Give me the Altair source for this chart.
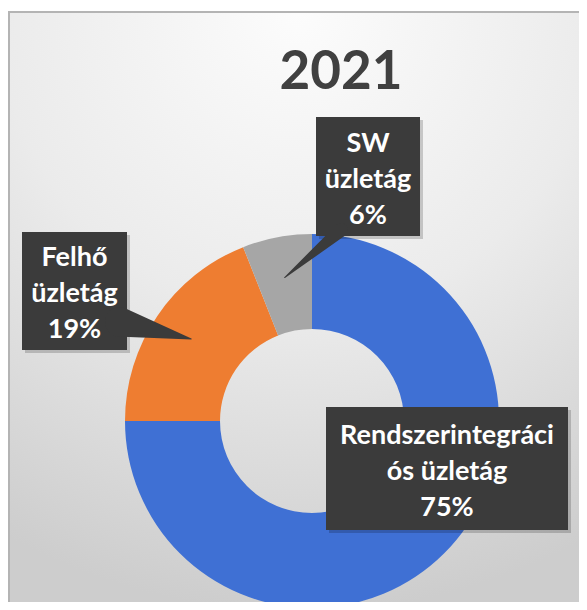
import math
import altair as alt
import pandas as pd

# ---- data ----
categories = ["Rendszerintegrációs üzletág", "Felhő üzletág", "SW üzletág"]
shares = [75, 19, 6]
label_lines = [["Rendszerintegráci", "ós üzletág"], ["Felhő", "üzletág"], ["SW", "üzletág"]]
colors = ["#3F70D4", "#EE7D31", "#A6A6A6"]
title_text = "2021"

# ---- layout ----
W, H = 571, 594
CX, CY = 304, 413
R_OUT, R_IN = 187, 92
FONT = "Lato"
BOX_COLOR = "#3b3b3b"
LINE_H = 36
# label boxes (left, right, top, bottom) in chart pixels
boxes = [(318, 560, 399, 522), (14, 119, 224, 342), (308, 412, 109, 228)]
pointer_base = [None, (112, 314, 30), (333, 222, 14)]   # x, y, width
TIP_R = 146

xs = alt.Scale(domain=[0, W], range=[0, W], nice=False, zero=False)
ys = alt.Scale(domain=[0, H], range=[0, H], nice=False, zero=False)

# background panel
bg = alt.Chart(alt.Data(values=[{}])).mark_rect(
    fill={"gradient": "radial",
          "stops": [{"offset": 0, "color": "#fcfcfc"},
                    {"offset": 0.5, "color": "#ebebeb"},
                    {"offset": 1, "color": "#cdcdcd"}],
          "x1": 0.5, "y1": 0, "r1": 0, "x2": 0.5, "y2": 0, "r2": 1},
    stroke="#b4b4b4", strokeWidth=2,
).encode(x=alt.value(1), x2=alt.value(W + 10), y=alt.value(4), y2=alt.value(H + 10))

# donut
donut_df = pd.DataFrame({"name": categories, "value": shares, "idx": list(range(len(shares)))})
donut = alt.Chart(donut_df).mark_arc(radius=R_OUT, radius2=R_IN).encode(
    theta=alt.Theta("value:Q", stack=True),
    color=alt.Color("name:N", scale=alt.Scale(domain=categories, range=colors), legend=None),
    order=alt.Order("idx:Q"),
    x=alt.value(CX), y=alt.value(CY),
)

# pointers: from box to slice middle
total = sum(shares)
rows = []
cum = 0
for i, v in enumerate(shares):
    mid = (cum + v / 2) / total * 2 * math.pi
    cum += v
    base = pointer_base[i]
    if base is None:
        continue
    tx = CX + TIP_R * math.sin(mid)
    ty = CY - TIP_R * math.cos(mid)
    rows.append({"g": i, "k": 0, "x": base[0], "y": base[1], "w": base[2]})
    rows.append({"g": i, "k": 1, "x": tx, "y": ty, "w": 0})
ptr_df = pd.DataFrame(rows)
pointers = alt.Chart(ptr_df).mark_trail(color=BOX_COLOR).encode(
    x=alt.X("x:Q", scale=xs, axis=None),
    y=alt.Y("y:Q", scale=ys, axis=None),
    size=alt.Size("w:Q", scale=None, legend=None),
    detail="g:N",
    order="k:Q",
)

# boxes
box_df = pd.DataFrame({
    "x1": [b[0] for b in boxes], "x2": [b[1] for b in boxes],
    "y1": [b[2] for b in boxes], "y2": [b[3] for b in boxes],
})
box_df["sx1"] = box_df.x1 + 3
box_df["sx2"] = box_df.x2 + 3
box_df["sy1"] = box_df.y1 + 3
box_df["sy2"] = box_df.y2 + 3
shadow = alt.Chart(box_df).mark_rect(color="#000000", opacity=0.18).encode(
    x=alt.X("sx1:Q", scale=xs, axis=None), x2="sx2:Q",
    y=alt.Y("sy1:Q", scale=ys, axis=None), y2="sy2:Q",
)
box = alt.Chart(box_df).mark_rect(color=BOX_COLOR).encode(
    x=alt.X("x1:Q", scale=xs, axis=None), x2="x2:Q",
    y=alt.Y("y1:Q", scale=ys, axis=None), y2="y2:Q",
)

# label text, one row per line
lrows = []
for i in range(len(shares)):
    lines = label_lines[i] + [f"{shares[i]}%"]
    b = boxes[i]
    cxm = (b[0] + b[1]) / 2
    cym = (b[2] + b[3]) / 2 + 3
    n = len(lines)
    for j, t in enumerate(lines):
        lrows.append({"txt": t, "x": cxm, "y": cym + (j - (n - 1) / 2) * LINE_H})
lab_df = pd.DataFrame(lrows)
labels = alt.Chart(lab_df).mark_text(
    font=FONT, fontSize=27, fontWeight="bold", color="#ffffff",
    align="center", baseline="middle",
).encode(
    x=alt.X("x:Q", scale=xs, axis=None),
    y=alt.Y("y:Q", scale=ys, axis=None),
    text="txt:N",
)

title = alt.Chart(alt.Data(values=[{"t": title_text}])).mark_text(
    font=FONT, fontSize=53, fontWeight="bold", color="#404040",
    align="center", baseline="alphabetic",
).encode(x=alt.value(333), y=alt.value(81), text="t:N")

chart = alt.layer(bg, donut, shadow, box, pointers, labels, title).properties(
    width=W, height=H, padding=0, autosize=alt.AutoSizeParams(type="none"),
    background="#ffffff",
).configure_view(stroke=None)

chart.save("out.html", embed_options={"renderer": "svg", "actions": False})
